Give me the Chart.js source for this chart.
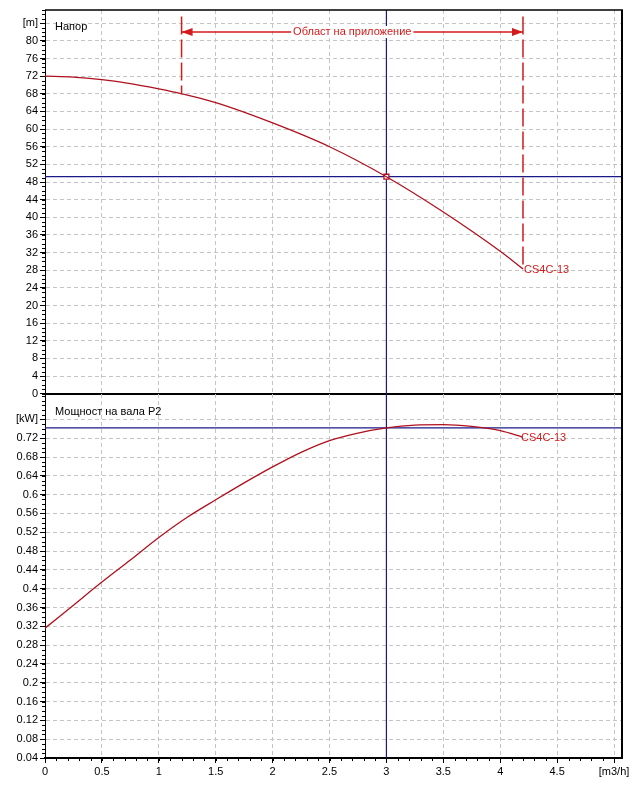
<!DOCTYPE html>
<html><head><meta charset="utf-8">
<script src="https://cdn.jsdelivr.net/npm/chart.js@4.4.1/dist/chart.umd.min.js"></script>
<style>
html,body{margin:0;padding:0;background:#fff;}
#wrap{position:relative;width:644px;height:789px;background:#fff;overflow:hidden;}
canvas{position:absolute;left:0;}
#c1{top:0;}
#c2{top:393px;}
</style></head><body>
<div id="wrap"><canvas id="c1" width="644" height="399"></canvas><canvas id="c2" width="644" height="396"></canvas></div>
<script>
// ---------- data ----------
const flowTicks = [0,0.5,1,1.5,2,2.5,3,3.5,4,4.5,5];
const flowTickLabels = ['0','0.5','1','1.5','2','2.5','3','3.5','4','4.5','[m3/h]'];
const headTicks = [0,4,8,12,16,20,24,28,32,36,40,44,48,52,56,60,64,68,72,76,80,84];
const headTickLabels = ['0','4','8','12','16','20','24','28','32','36','40','44','48','52','56','60','64','68','72','76','80','[m]'];
const powerTicks = [0.04,0.08,0.12,0.16,0.2,0.24,0.28,0.32,0.36,0.4,0.44,0.48,0.52,0.56,0.6,0.64,0.68,0.72,0.76];
const powerTickLabels = ['0.04','0.08','0.12','0.16','0.2','0.24','0.28','0.32','0.36','0.4','0.44','0.48','0.52','0.56','0.6','0.64','0.68','0.72','[kW]'];

const headQ = [0,0.25,0.5,0.75,1,1.2,1.5,2,2.5,3,3.5,4,4.2];
const headH = [72,71.8,71.2,70.3,69.1,68,66,61.4,56,49.2,41.2,32.3,28.3];
const powerQ = [0,0.25,0.5,0.75,1,1.25,1.5,1.75,2,2.25,2.5,2.75,3,3.25,3.5,3.75,4,4.2];
const powerP = [0.316,0.365,0.414,0.461,0.509,0.552,0.589,0.625,0.659,0.69,0.715,0.731,0.742,0.748,0.749,0.745,0.736,0.722];

const dutyQ = 3, dutyH = 49.2, dutyP = 0.742;
const rangeQ = [1.2, 4.2];
const rangeArrowH = 82, rangeTopH = 85.5;
const pumpName = 'CS4C-13';
const headTitle = 'Напор';
const powerTitle = 'Мощност на вала P2';
const rangeTitle = 'Област на приложение';

// ---------- styles ----------
const FONT = '"Liberation Sans", Arial, sans-serif';
const curveColor = '#b0101e';
const annotColor = '#d41a1a';
const crossColor = '#1a1a86';
const gridColor = '#c4c4c4';

function xyPoints(xs, ys){ return xs.map((x,i)=>({x:x, y:ys[i]})); }
function headAt(q){ return headH[headQ.indexOf(q)]; }

function xScale(showLabels){
  return {
    type:'linear', position:'bottom', min:0, max:5.07,
    afterBuildTicks: s => { s.ticks = flowTicks.map(v=>({value:v})); },
    afterFit: s => { s.height = showLabels ? 31 : 0; s.paddingLeft = 0; s.paddingRight = 0; },
    ticks:{ display:showLabels, autoSkip:false, maxRotation:0, padding:2, color:'#000',
      font:{family:FONT,size:11}, callback:(v,i)=>flowTickLabels[i] },
    grid:{ color:gridColor, lineWidth:1, drawTicks:showLabels, tickLength:5, tickColor:'#000', tickWidth:1 },
    border:{ display:true, color:'#000', width:2, dash:[4,3] }
  };
}
function yScale(min,max,ticks,labels){
  return {
    type:'linear', position:'left', min:min, max:max,
    afterBuildTicks: s => { s.ticks = ticks.map(v=>({value:v})); },
    afterFit: s => { s.width = 45; s.paddingTop = 0; s.paddingBottom = 0; },
    ticks:{ autoSkip:false, padding:2, color:'#000', font:{family:FONT,size:11},
      callback:(v,i)=>labels[i] },
    grid:{ color:gridColor, lineWidth:1, tickLength:5, tickColor:'#000', tickWidth:1 },
    border:{ display:true, color:'#000', width:1, dash:[4,3] }
  };
}

function line(ctx,x1,y1,x2,y2){ ctx.beginPath(); ctx.moveTo(x1,y1); ctx.lineTo(x2,y2); ctx.stroke(); }

function drawFrameAndMinor(chart, yMinorFrom, yMinorTo, yMinorDiv, xMinor){
  const ctx = chart.ctx, a = chart.chartArea, xs = chart.scales.x, ys = chart.scales.y;
  ctx.save();
  ctx.strokeStyle = '#000'; ctx.lineWidth = 1;
  for(let i=yMinorFrom;i<=yMinorTo;i++){
    const y = Math.round(ys.getPixelForValue(i / yMinorDiv)) + 0.5;
    line(ctx, a.left-3, y, a.left, y);
  }
  if(xMinor){
    for(let i=0;i<=50;i++){
      const x = Math.round(xs.getPixelForValue(i/10)) + 0.5;
      line(ctx, x, a.bottom, x, a.bottom+3);
    }
  }
  ctx.lineWidth = 2;
  line(ctx, a.right, a.top, a.right, a.bottom);
  ctx.restore();
}

function drawCross(chart, qv, yv){
  const ctx = chart.ctx, a = chart.chartArea, xs = chart.scales.x, ys = chart.scales.y;
  ctx.save();
  ctx.strokeStyle = crossColor; ctx.lineWidth = 1.2;
  const x = xs.getPixelForValue(qv), y = ys.getPixelForValue(yv);
  line(ctx, x, a.top, x, a.bottom);
  line(ctx, a.left, y, a.right, y);
  ctx.restore();
}

function drawText(ctx, txt, x, y, color, align){
  ctx.save();
  ctx.font = '11px ' + FONT; ctx.fillStyle = color; ctx.textAlign = align || 'left'; ctx.textBaseline = 'middle';
  ctx.fillText(txt, x, y);
  ctx.restore();
}

// ---------- top chart ----------
const topPlugin = {
  id:'topPlugin',
  beforeDatasetsDraw(chart){ drawCross(chart, dutyQ, dutyH); },
  afterDatasetsDraw(chart){
    const ctx = chart.ctx, a = chart.chartArea, xs = chart.scales.x, ys = chart.scales.y;
    ctx.save();
    ctx.strokeStyle = annotColor; ctx.lineWidth = 1.5; ctx.setLineDash([18,5]);
    rangeQ.forEach(q => {
      const x = xs.getPixelForValue(q);
      line(ctx, x, ys.getPixelForValue(rangeTopH), x, ys.getPixelForValue(headAt(q)));
    });
    ctx.setLineDash([]);
    const xL = xs.getPixelForValue(rangeQ[0]), xR = xs.getPixelForValue(rangeQ[1]);
    const yA = ys.getPixelForValue(rangeArrowH);
    ctx.lineWidth = 1.5;
    line(ctx, xL, yA, xR, yA);
    ctx.fillStyle = annotColor;
    ctx.beginPath(); ctx.moveTo(xL, yA); ctx.lineTo(xL+11, yA-4); ctx.lineTo(xL+11, yA+4); ctx.closePath(); ctx.fill();
    ctx.beginPath(); ctx.moveTo(xR, yA); ctx.lineTo(xR-11, yA-4); ctx.lineTo(xR-11, yA+4); ctx.closePath(); ctx.fill();
    ctx.font = '11px ' + FONT;
    const w = ctx.measureText(rangeTitle).width;
    const xm = (xL + xR) / 2;
    ctx.fillStyle = '#fff';
    ctx.fillRect(xm - w/2 - 2, yA - 6, w + 4, 12);
    ctx.restore();
    drawText(ctx, rangeTitle, xm, yA, annotColor, 'center');
    const last = headQ.length - 1;
    drawText(ctx, pumpName, xs.getPixelForValue(headQ[last]) + 1, ys.getPixelForValue(headH[last]) + 1, annotColor);
    drawText(ctx, headTitle, a.left + 10, a.top + 17, '#000');
  },
  afterDraw(chart){
    drawFrameAndMinor(chart, 0, 87, 1, false);
    const ctx = chart.ctx, a = chart.chartArea;
    ctx.save(); ctx.strokeStyle = '#000'; ctx.lineWidth = 1.5;
    line(ctx, a.left, a.top, a.right + 1, a.top);
    ctx.restore();
  }
};

new Chart(document.getElementById('c1'), {
  type:'line',
  data:{ datasets:[
    { data: xyPoints(headQ, headH), borderColor: curveColor, borderWidth: 1.3, pointRadius: 0,
      cubicInterpolationMode:'monotone', fill:false },
    { type:'scatter', data: [{x:dutyQ, y:dutyH}], pointStyle:'rect', pointRadius:3.5,
      backgroundColor:'#fff', borderColor:curveColor, borderWidth:1.3 }
  ]},
  options:{
    responsive:false, animation:false, devicePixelRatio:1,
    layout:{ padding:{ top:10, right:22, bottom:2, left:0 } },
    plugins:{ legend:{display:false}, tooltip:{enabled:false} },
    scales:{ x: xScale(false), y: yScale(0, 87, headTicks, headTickLabels) }
  },
  plugins:[topPlugin]
});

// ---------- bottom chart ----------
const bottomPlugin = {
  id:'bottomPlugin',
  beforeDatasetsDraw(chart){ drawCross(chart, dutyQ, dutyP); },
  afterDatasetsDraw(chart){
    const ctx = chart.ctx, a = chart.chartArea, xs = chart.scales.x, ys = chart.scales.y;
    const last = powerQ.length - 1;
    drawText(ctx, pumpName, xs.getPixelForValue(powerQ[last]) - 2, ys.getPixelForValue(powerP[last]) + 1, annotColor);
    drawText(ctx, powerTitle, a.left + 10, a.top + 18, '#000');
  },
  afterDraw(chart){ drawFrameAndMinor(chart, 4, 81, 100, true); }
};

new Chart(document.getElementById('c2'), {
  type:'line',
  data:{ datasets:[
    { data: xyPoints(powerQ, powerP), borderColor: curveColor, borderWidth: 1.3, pointRadius: 0,
      cubicInterpolationMode:'monotone', fill:false }
  ]},
  options:{
    responsive:false, animation:false, devicePixelRatio:1,
    layout:{ padding:{ top:1, right:22, bottom:0, left:0 } },
    plugins:{ legend:{display:false}, tooltip:{enabled:false} },
    scales:{ x: xScale(true), y: yScale(0.04, 0.814, powerTicks, powerTickLabels) }
  },
  plugins:[bottomPlugin]
});
</script>
</body></html>
